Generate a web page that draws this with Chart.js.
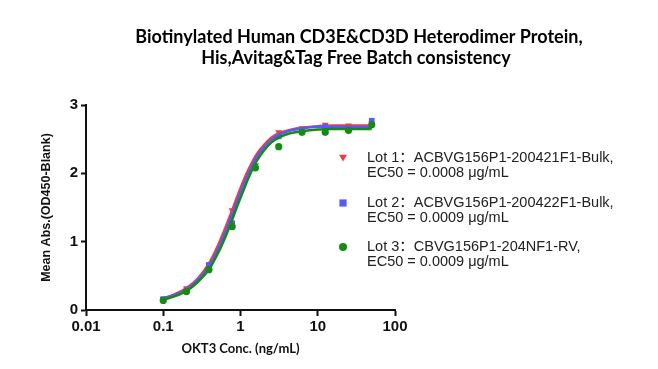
<!DOCTYPE html>
<html>
<head>
<meta charset="utf-8">
<script src="https://cdn.jsdelivr.net/npm/chart.js@4/dist/chart.umd.min.js"></script>
<style>
  html, body { margin: 0; padding: 0; background: #fff; }
  #wrap { width: 658px; height: 369px; }
</style>
</head>
<body>
<div id="wrap"><canvas id="chart" width="658" height="369"></canvas></div>
<script>
// ===============================
// Data
// ===============================
const titleLines = ["Biotinylated Human CD3E&CD3D Heterodimer Protein,", "His,Avitag&Tag Free Batch consistency"];
const xTitle = "OKT3 Conc. (ng/mL)";
const yTitle = "Mean Abs.(OD450-Blank)";
const xTickVals = [0.01, 0.1, 1, 10, 100];
const xTickLabels = ["0.01", "0.1", "1", "10", "100"];
const yTickVals = [0, 1, 2, 3];

const conc = [0.1, 0.2, 0.39, 0.78, 1.56, 3.125, 6.25, 12.5, 25, 50];
const lot1 = [0.16, 0.32, 0.66, 1.46, 2.12, 2.60, 2.66, 2.71, 2.70, 2.73];
const lot2 = [0.16, 0.29, 0.66, 1.27, 2.10, 2.54, 2.63, 2.68, 2.64, 2.77];
const lot3 = [0.14, 0.27, 0.59, 1.22, 2.08, 2.39, 2.60, 2.60, 2.63, 2.71];

// fitted curves
const curveX = [0.1, 0.14, 0.2, 0.28, 0.4, 0.5, 0.6, 0.75, 0.9, 1.1, 1.3, 1.6, 2, 2.5, 3.2, 4.5, 6.5, 10, 15, 25, 50];
const fit1 = [0.17, 0.23, 0.32, 0.46, 0.70, 0.92, 1.13, 1.41, 1.65, 1.90, 2.08, 2.27, 2.41, 2.52, 2.59, 2.64, 2.67, 2.69, 2.70, 2.70, 2.70];
const fit2 = [0.17, 0.22, 0.30, 0.44, 0.66, 0.87, 1.07, 1.35, 1.59, 1.84, 2.03, 2.23, 2.38, 2.49, 2.57, 2.63, 2.66, 2.68, 2.68, 2.68, 2.68];
const fit3 = [0.15, 0.20, 0.28, 0.41, 0.61, 0.81, 1.00, 1.27, 1.51, 1.76, 1.96, 2.17, 2.33, 2.45, 2.53, 2.59, 2.62, 2.64, 2.65, 2.65, 2.65];

const legendLines = [
  ["Lot 1：ACBVG156P1-200421F1-Bulk,", "EC50 = 0.0008 μg/mL"],
  ["Lot 2：ACBVG156P1-200422F1-Bulk,", "EC50 = 0.0009 μg/mL"],
  ["Lot 3：CBVG156P1-204NF1-RV,", "EC50 = 0.0009 μg/mL"]
];

const colors = ["#f23c3c", "#5a5af5", "#168a16"];
const shapes = ["triangleDown", "rect", "circle"];

const pts = (xs, ys) => xs.map((x, i) => ({ x: x, y: ys[i] }));

// ===============================
// Marker drawing
// ===============================
function drawMarker(ctx, shape, x, y, r, color) {
  ctx.save();
  ctx.fillStyle = color;
  ctx.beginPath();
  if (shape === "circle") {
    ctx.arc(x, y, r, 0, Math.PI * 2);
  } else if (shape === "rect") {
    ctx.rect(x - r * 0.9, y - r * 0.9, r * 1.8, r * 1.8);
  } else {
    ctx.moveTo(x - r, y - r * 0.8);
    ctx.lineTo(x + r, y - r * 0.8);
    ctx.lineTo(x, y + r * 0.9);
    ctx.closePath();
  }
  ctx.fill();
  ctx.restore();
}

// ===============================
// Title + legend plugin
// ===============================
const decorPlugin = {
  id: "decor",
  afterDraw(chart) {
    const ctx = chart.ctx;
    ctx.save();
    ctx.fillStyle = "#000";
    ctx.textAlign = "center";
    ctx.textBaseline = "middle";
    ctx.font = "bold 18px Lato, 'Open Sans', sans-serif";
    ctx.fillText(titleLines[0], 359, 37);
    ctx.fillText(titleLines[1], 356, 58);

    ctx.textAlign = "left";
    ctx.font = "14.5px 'Liberation Sans', Arial, 'Noto Sans CJK SC', sans-serif";
    const rowY = [158, 203, 247];
    legendLines.forEach((lines, i) => {
      drawMarker(ctx, shapes[i], 343, rowY[i], 4, colors[i]);
      ctx.fillStyle = "#222";
      ctx.fillText(lines[0], 367, rowY[i]);
      ctx.fillText(lines[1], 367, rowY[i] + 15);
    });
    ctx.restore();
  }
};

// ===============================
// Datasets
// ===============================
const series = [lot1, lot2, lot3];
const fits = [fit1, fit2, fit3];
const datasets = [];
series.forEach((vals, i) => {
  datasets.push({
    type: "scatter",
    data: pts(curveX, fits[i]),
    showLine: true,
    borderColor: colors[i],
    borderWidth: 2.5,
    pointRadius: 0,
    cubicInterpolationMode: "monotone",
    order: 10 - i * 2
  });
  datasets.push({
    type: "scatter",
    data: pts(conc, vals),
    showLine: false,
    pointStyle: shapes[i] === "triangleDown" ? "triangle" : shapes[i],
    rotation: shapes[i] === "triangleDown" ? 180 : 0,
    pointRadius: shapes[i] === "circle" ? 3.6 : 4,
    backgroundColor: colors[i],
    borderColor: colors[i],
    borderWidth: 0,
    order: 9 - i * 2
  });
});

const tickFont = { family: "'Liberation Sans', Arial, sans-serif", size: 15, weight: "bold" };

new Chart(document.getElementById("chart"), {
  type: "scatter",
  data: { datasets },
  options: {
    responsive: false,
    animation: false,
    layout: { padding: { top: 105, right: 263, left: 0, bottom: 0 } },
    plugins: { legend: { display: false }, tooltip: { enabled: false }, title: { display: false } },
    scales: {
      x: {
        type: "logarithmic",
        min: 0.01,
        max: 100,
        afterBuildTicks: (scale) => { scale.ticks = xTickVals.map(v => ({ value: v })); },
        afterFit: (scale) => { scale.height = 59; },
        ticks: {
          color: "#111",
          font: tickFont,
          padding: 2,
          maxRotation: 0,
          autoSkip: false,
          callback: (v) => { const k = xTickVals.indexOf(v); return k >= 0 ? xTickLabels[k] : ""; }
        },
        grid: { display: true, drawOnChartArea: false, drawTicks: true, tickLength: 6, tickColor: "#111", tickWidth: 2 },
        border: { display: true, color: "#111", width: 2 },
        title: { display: true, text: xTitle, color: "#111", font: { family: "Lato, 'Open Sans', sans-serif", size: 13, weight: "bold" }, padding: { top: 0, bottom: 12 } }
      },
      y: {
        min: 0,
        max: 3,
        afterBuildTicks: (scale) => { scale.ticks = yTickVals.map(v => ({ value: v })); },
        afterFit: (scale) => { scale.width = 86; },
        ticks: { color: "#111", font: tickFont, padding: 3, callback: (v) => String(v) },
        grid: { display: true, drawOnChartArea: false, drawTicks: true, tickLength: 5, tickColor: "#111", tickWidth: 2 },
        border: { display: true, color: "#111", width: 2 },
        title: { display: true, text: yTitle, color: "#111", font: { family: "'Liberation Sans', Arial, sans-serif", size: 12.5, weight: "bold" }, padding: { top: 39, bottom: 0 } }
      }
    }
  },
  plugins: [decorPlugin]
});
</script>
</body>
</html>
